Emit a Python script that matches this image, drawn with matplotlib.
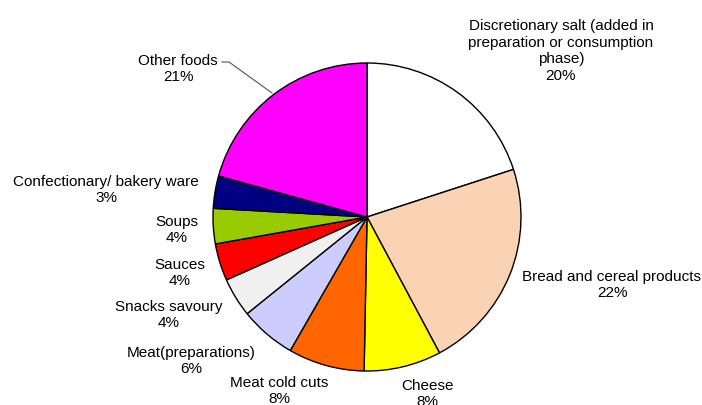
import matplotlib
matplotlib.use("Agg")
import matplotlib.pyplot as plt

categories = ["Discretionary salt (added in\npreparation or consumption\nphase)",
              "Bread and cereal products", "Cheese", "Meat cold cuts",
              "Meat(preparations)", "Snacks savoury", "Sauces", "Soups",
              "Confectionary/ bakery ware", "Other foods"]
values = [20.0, 22.2, 8.1, 8.0, 5.9, 4.1, 3.9, 3.7, 3.4, 20.7]
pct_labels = ["20%", "22%", "8%", "8%", "6%", "4%", "4%", "4%", "3%", "21%"]
colors = ["#FFFFFF", "#FAD3B4", "#FFFF00", "#FF6600", "#CCCCFF",
          "#F0F0F0", "#FF0000", "#99CC00", "#000080", "#FF00FF"]

# label centre positions in pixel coordinates (x, y from top)
label_pos = [(561, 51), (612, 285), (427, 394), (279, 391), (191, 361),
             (169, 315), (180, 273), (177, 230), (106, 190), (178, 69)]

plt.rcParams['font.family'] = ['Liberation Sans', 'DejaVu Sans']
W, H = 702, 405
fig = plt.figure(figsize=(W / 100, H / 100), dpi=100)
ax = fig.add_axes([0, 0, 1, 1])

cx, cy, r = 367, H - 217, 154
ax.pie(values, colors=colors, startangle=90, counterclock=False,
       center=(cx, cy), radius=r, frame=True,
       wedgeprops=dict(edgecolor='black', linewidth=1.0))
ax.set_xlim(0, W)
ax.set_ylim(0, H)
ax.set_aspect('equal')
ax.axis('off')

for cat, pct, (x, y) in zip(categories, pct_labels, label_pos):
    ax.text(x, H - y, cat + "\n" + pct, ha='center', va='center',
            fontsize=11, linespacing=1.22, color='black')

# leader line for Other foods
ax.plot([222, 229, 272], [H - 62, H - 62, H - 93], color='#555555', lw=0.8)

fig.savefig("out.png", dpi=100)
